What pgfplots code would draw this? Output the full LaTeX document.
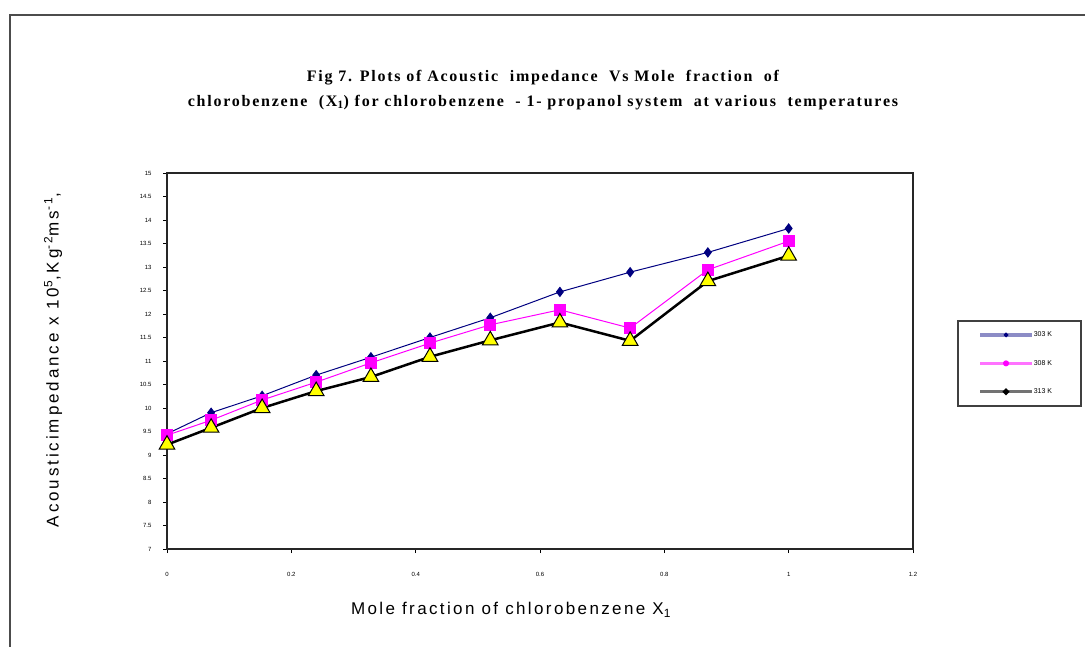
\documentclass[border=0pt]{standalone}
\usepackage{pgfplots}
\pgfplotsset{compat=1.18}
\usepackage{fontspec}
\setmainfont{Liberation Sans}
\newfontfamily\spaced{Liberation Sans}[LetterSpace=14]
\newfontfamily\spacedy{Liberation Sans}[LetterSpace=17]
\newfontfamily\serifb{Liberation Serif}[LetterSpace=11]
\definecolor{navyc}{RGB}{0,0,128}
\definecolor{magc}{RGB}{255,0,255}
\definecolor{yelc}{RGB}{255,255,0}
\pgfplotstableread{
x     a      b      c
0     9.45   9.42   9.22
0.071 9.90   9.74   9.58
0.153 10.26  10.17  10.00
0.240 10.70  10.55  10.36
0.328 11.08  10.96  10.66
0.423 11.50  11.38  11.09
0.520 11.92  11.77  11.44
0.632 12.47  12.09  11.82
0.745 12.89  11.70  11.43
0.870 13.31  12.94  12.70
1.000 13.82  13.55  13.24
}\datatable
\begin{document}
\begin{tikzpicture}[x=1pt,y=1pt]
\path[use as bounding box] (0,0) rectangle (1085,646);
\draw[black!70, line width=1.3pt] (10,-5) -- (10,631) -- (1090,631);
\node[font=\serifb\bfseries\fontsize{16}{25}\selectfont, align=center] at (543,556)
  {Fig 7. Plots of Acoustic\ \ impedance\ \ Vs Mole\ \ fraction\ \ of\\
   chlorobenzene\ \ (X\textsubscript{1}) for chlorobenzene\ \ - 1- propanol system\ \ at various\ \ temperatures};
\node[rotate=90, font=\spacedy\fontsize{17}{19}\selectfont] at (53,286)
  {Acousticimpedance x 10\textsuperscript{5},Kg\textsuperscript{-2}ms\textsuperscript{-1},};
\node[font=\spaced\fontsize{17}{19}\selectfont] at (511,36) {Mole fraction of chlorobenzene X\textsubscript{1}};
\begin{axis}[
  at={(167pt,97pt)}, anchor=south west,
  scale only axis, width=746pt, height=376pt,
  xmin=0, xmax=1.2, ymin=7, ymax=15,
  xtick={0,0.2,0.4,0.6,0.8,1,1.2},
  ytick={7,7.5,8,8.5,9,9.5,10,10.5,11,11.5,12,12.5,13,13.5,14,14.5,15},
  xtick pos=bottom, ytick pos=left,
  tick align=outside, major tick length=4pt,
  tick style={black, line width=0.8pt},
  axis line style={black!85, line width=1.2pt},
  ticklabel style={font=\fontsize{6}{7}\selectfont},
  /pgf/number format/assume math mode=true,
  xticklabel style={yshift=-16pt},
  yticklabel style={xshift=-8pt},
  clip=false,
  legend style={at={(1.059,0.609)}, anchor=north west, draw=black!75, line width=1.5pt,
     font=\fontsize{7}{7}\selectfont, row sep=22pt, inner xsep=15pt, inner ysep=11pt,
     nodes={inner sep=0pt},
     /tikz/every even column/.append style={column sep=9pt}},
  legend cell align=left,
]
\addplot[navyc, line width=1pt, mark=diamond*, mark size=4.5pt, mark options={fill=navyc, draw=navyc},
  legend image code/.code={\path (0pt,0pt); \draw[draw=navyc!45, line width=3.5pt] (6pt,0pt) -- (58pt,0pt); \fill[navyc] (32pt,0pt) circle (1.8pt);}]
  table[x=x,y=a]{\datatable};
\addlegendentry{\makebox[32pt][l]{303 K}}
\addplot[magc, line width=1pt, mark=square*, mark size=5.5pt, mark options={fill=magc, draw=magc},
  legend image code/.code={\path (0pt,0pt); \draw[draw=magc!55, line width=3.5pt] (6pt,0pt) -- (58pt,0pt); \fill[magc] (32pt,0pt) circle (2.5pt);}]
  table[x=x,y=b]{\datatable};
\addlegendentry{\makebox[32pt][l]{308 K}}
\addplot[black, line width=2.5pt, mark=triangle*, mark size=9pt, mark options={fill=yelc, draw=black, line width=1pt},
  legend image code/.code={\path (0pt,0pt); \draw[draw=black!55, line width=3.5pt] (6pt,0pt) -- (58pt,0pt); \fill[black] (32pt,0pt) circle (1.8pt);}]
  table[x=x,y=c]{\datatable};
\addlegendentry{\makebox[32pt][l]{313 K}}
\end{axis}
\end{tikzpicture}
\end{document}
